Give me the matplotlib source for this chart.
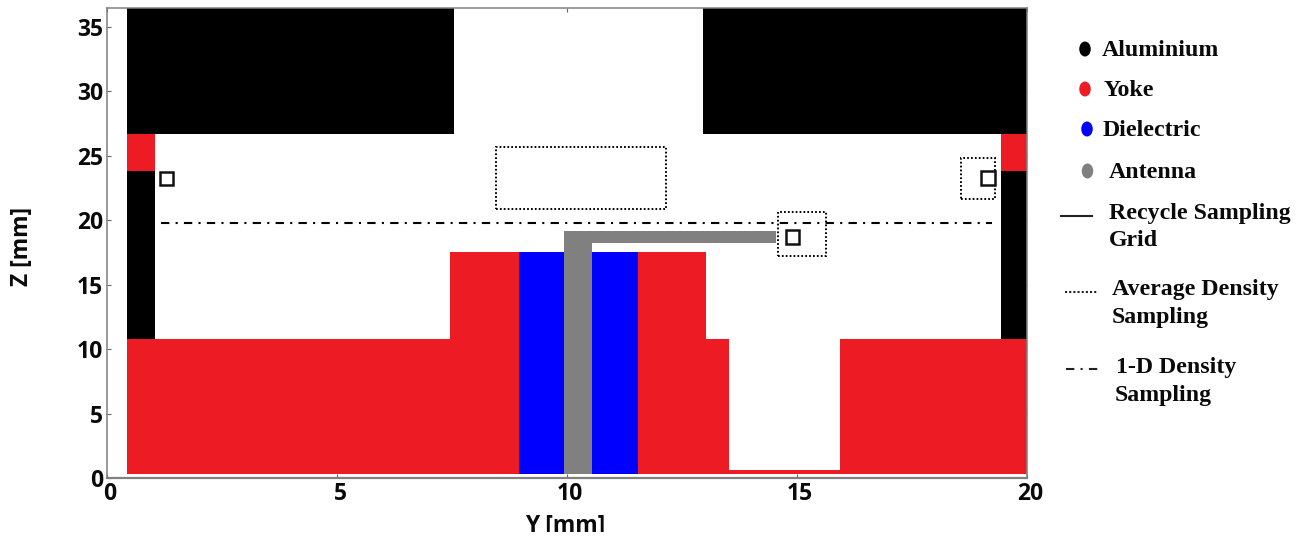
import matplotlib
matplotlib.use('Agg')
import matplotlib.pyplot as plt
from matplotlib.patches import Rectangle, Ellipse
from matplotlib.lines import Line2D
from matplotlib.transforms import Affine2D, ScaledTranslation, Bbox, TransformedBbox

W, H = 1308, 536

# regions as (y0, y1, z0, z1) in mm
aluminium = [(0.445, 7.54, 26.7, 36.46), (12.95, 20.0, 26.7, 36.46),
             (0.445, 1.05, 10.78, 23.84), (19.43, 20.0, 10.78, 23.84)]
yoke = [(0.445, 1.05, 23.84, 26.7), (19.43, 20.0, 23.84, 26.7),
        (0.445, 7.46, 0.29, 10.78), (7.46, 8.96, 0.29, 17.57),
        (11.54, 13.03, 0.29, 17.57), (13.03, 13.53, 0.29, 10.78),
        (13.53, 15.94, 0.29, 0.62), (15.94, 20.0, 0.29, 10.78)]
dielectric = [(8.96, 9.94, 0.29, 17.57), (10.54, 11.54, 0.29, 17.57)]
antenna = [(9.94, 10.54, 0.29, 19.14), (10.54, 14.54, 18.23, 19.14)]
average_boxes = [(8.45, 12.15, 20.9, 25.7), (14.59, 15.62, 17.2, 20.6), (18.56, 19.3, 21.65, 24.85)]
recycle_boxes = [(1.145, 1.435, 22.75, 23.75), (14.75, 15.05, 18.15, 19.24), (19.0, 19.31, 22.75, 23.8)]
density_y = [1.17, 19.23]
density_z = [19.75, 19.75]

xticks = [0, 5, 10, 15, 20]
yticks = [0, 5, 10, 15, 20, 25, 30, 35]

legend_dots = [('Aluminium', 'black', 1085, 49, 1102, 51),
               ('Yoke', '#ed1c24', 1085, 89, 1104, 91),
               ('Dielectric', '#0000ff', 1087, 129, 1103, 131),
               ('Antenna', '#808080', 1087.5, 171, 1109, 173)]
legend_lines = [(1061, 1092, 215.5, '-'), (1065, 1097, 292, (0, (1, 1))), (1066, 1099, 369, (0, (4, 3, 1, 3)))]
legend_texts = [('Recycle Sampling', 1109, 213), ('Grid', 1109, 241),
                ('Average Density', 1112, 289), ('Sampling', 1112, 317),
                ('1-D Density', 1116, 367), ('Sampling', 1115, 395)]

fig = plt.figure(figsize=(W / 100, H / 100), dpi=100)
ax = fig.add_axes([107 / W, 1 - 478 / H, 920 / W, 470 / H])
px = Affine2D().scale(1 / W, -1 / H).translate(0, 1) + fig.transFigure


def draw_rects(rects, color):
    for y0, y1, z0, z1 in rects:
        ax.add_patch(Rectangle((y0, z0), y1 - y0, z1 - z0, fc=color, ec='none', zorder=2))


draw_rects(aluminium, 'black')
draw_rects(yoke, '#ed1c24')
draw_rects(dielectric, '#0000ff')
draw_rects(antenna, '#808080')

for y0, y1, z0, z1 in average_boxes:
    ax.add_patch(Rectangle((y0, z0), y1 - y0, z1 - z0, fill=False, ec='black', lw=1.4,
                           ls=(0, (0.9, 1.1)), zorder=4))
for y0, y1, z0, z1 in recycle_boxes:
    ax.add_patch(Rectangle((y0, z0), y1 - y0, z1 - z0, fc='white', ec='#111111', lw=1.8, zorder=5))
ax.plot(density_y, density_z, color='black', lw=1.5, ls=(0, (4, 3, 1, 3)), dash_capstyle='butt', zorder=3)

ax.set_xlim(0, 20)
ax.set_ylim(0, 36.46)
ax.set_xticks(xticks)
ax.set_yticks(yticks)
ax.tick_params(direction='in', length=3, width=0.8, color='#666666', top=True, right=True, pad=3)
for s in ax.spines.values():
    s.set_color('#808080')
    s.set_linewidth(1.1)
    s.set_zorder(6)
ax.spines['bottom'].set_linewidth(1.6)

tick_font = dict(family='Open Sans', fontsize=16.5, fontweight='bold', color='#0a0a0a')
for lab in ax.get_xticklabels():
    lab.set(**tick_font)
    lab.set_transform(lab.get_transform() + ScaledTranslation(3 / 100, 0, fig.dpi_scale_trans))
for lab in ax.get_yticklabels():
    lab.set(**tick_font)

fig.text(28, 286, 'Z [mm]', rotation=90, rotation_mode='anchor', ha='left', va='baseline',
         transform=px, **tick_font)
xl = fig.text(525, 531.5, 'Y [mm]', ha='left', va='baseline', transform=px, **tick_font)
# the source image cuts this label off at the bottom
xl.set_clip_box(TransformedBbox(Bbox([[0, 4.5], [W, H]]), Affine2D()))
xl.set_clip_on(True)

legend_font = dict(family='Liberation Serif', fontsize=17.2, fontweight='bold', color='#0a0a0a',
                   ha='left', va='center', transform=px)
for label, color, mx, my, tx, ty in legend_dots:
    fig.add_artist(Ellipse((mx, my), 11.5, 15, fc=color, ec='none', transform=px))
    fig.text(tx, ty, label, **legend_font)
for x0, x1, y, style in legend_lines:
    fig.add_artist(Line2D([x0, x1], [y, y], color='#222222', lw=1.5, ls=style, dash_capstyle='butt', transform=px))
for label, tx, ty in legend_texts:
    fig.text(tx, ty, label, **legend_font)

plt.savefig('out.png', dpi=100)
